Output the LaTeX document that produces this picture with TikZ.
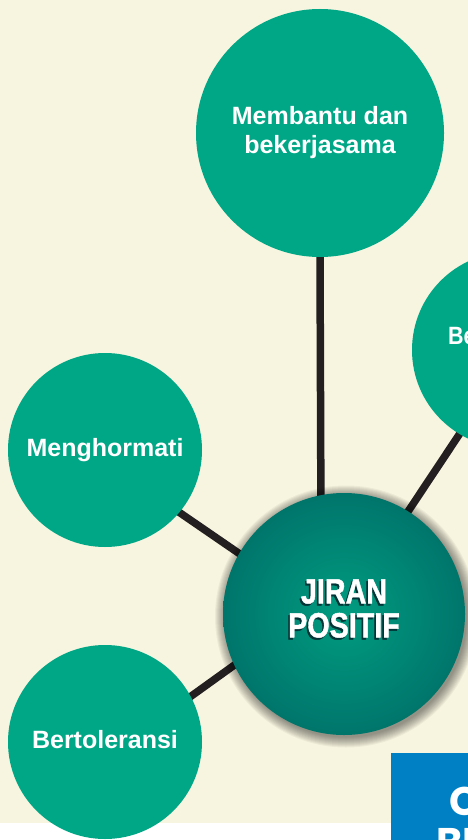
\documentclass[tikz,border=0pt]{standalone}
\usepackage{fontspec}
\setmainfont{Liberation Sans}
\newfontfamily\boxfont{Poppins}
\newfontface\jfont{Liberation Sans Bold}[FakeBold=1.4]
\usepackage{graphicx}
\usetikzlibrary{calc}
\definecolor{cream}{RGB}{247,244,223}
\definecolor{gcol}{RGB}{0,167,134}
\definecolor{linecol}{RGB}{35,31,32}
\definecolor{jlight}{RGB}{0,156,128}
\definecolor{jmid}{RGB}{0,122,110}
\definecolor{jdark}{RGB}{0,76,78}
\definecolor{jshadow}{RGB}{0,52,54}
\definecolor{boxblue}{RGB}{0,128,196}
\pgfdeclareradialshading{jiranshade}{\pgfpoint{0bp}{0bp}}{color(0bp)=(jlight); color(22bp)=(jmid); color(50bp)=(jdark); color(100bp)=(jdark)}
\pgfdeclarelayer{back}
\pgfdeclarelayer{lines}
\pgfdeclarelayer{shade}
\pgfsetlayers{back,lines,shade,main}
\newcommand\jshtext[1]{\scalebox{0.82}[1]{\rlap{\kern-2pt\raisebox{-2pt}{\textcolor{jshadow}{#1}}}#1}}
\begin{document}
\begin{tikzpicture}[x=1pt,y=-1pt,
  gcirc/.style={circle, fill=gcol, inner sep=0pt, text=white,
    font=\bfseries\fontsize{25}{29}\selectfont, align=center},
  jcirc/.style={circle, shading=jiranshade, inner sep=0pt},
  jtext/.style={text=white, inner sep=0pt, align=center,
    font=\jfont\fontsize{35}{34}\selectfont},
  conn/.style={draw=linecol, line width=7.5pt, shorten <=-6pt, shorten >=-6pt},
  boxtext/.style={text=white, inner sep=0pt, font=\boxfont\bfseries\fontsize{40}{40}\selectfont}]
\useasboundingbox (0,0) rectangle (468,840);
\begin{pgfonlayer}{back}
\fill[cream] (0,0) rectangle (468,823);
\fill[white] (0,823) rectangle (468,840);
\end{pgfonlayer}
% circles
\node[gcirc, minimum size=248pt] (help) at (320,133) {Membantu dan\\bekerjasama};
\node[gcirc, minimum size=196pt] (sopan) at (510,350) {};
\node[gcirc, minimum size=194pt, text height=17.9pt, text depth=5.3pt] (hormat) at (105,450) {Menghormati};
\node[gcirc, minimum size=194pt, text height=17.9pt, text depth=5.3pt] (toleran) at (105,742) {Bertoleransi};
\node[jcirc, minimum size=242pt] (jiran) at (344,614) {};
\node[text=white, inner sep=0pt, anchor=base west, font=\bfseries\fontsize{25}{29}\selectfont] (sopantext) at (448,344) {\scalebox{0.86}[1]{Be}};
\node[jtext] (jirantext) at (344,609.5) {\jshtext{JIRAN}\\\jshtext{POSITIF}};
% connectors
\begin{pgfonlayer}{lines}
\draw[conn] (help.south) -- (jiran.101.4);
\draw[conn] (hormat.-40.5) -- (jiran.150.1);
\draw[conn] (toleran.28.1) -- (jiran.205.9);
\draw[conn] (sopan.239.5) -- (jiran.58.9);
\end{pgfonlayer}
% soft shadow around centre circle
\begin{pgfonlayer}{shade}
\foreach \r in {121,122,...,131}
  \fill[black, opacity=0.045] ($(jiran.center)+(2,2.5)$) circle [radius=\r pt];
\end{pgfonlayer}
% blue box
\node[fill=boxblue, inner sep=0pt, minimum width=80pt, minimum height=90pt, anchor=north west] (box) at (391,753) {};
\node[boxtext, anchor=base west] (boxC) at (449,815) {C};
\node[boxtext, anchor=base west] (boxBE) at (436,856) {BE};
\end{tikzpicture}
\end{document}
